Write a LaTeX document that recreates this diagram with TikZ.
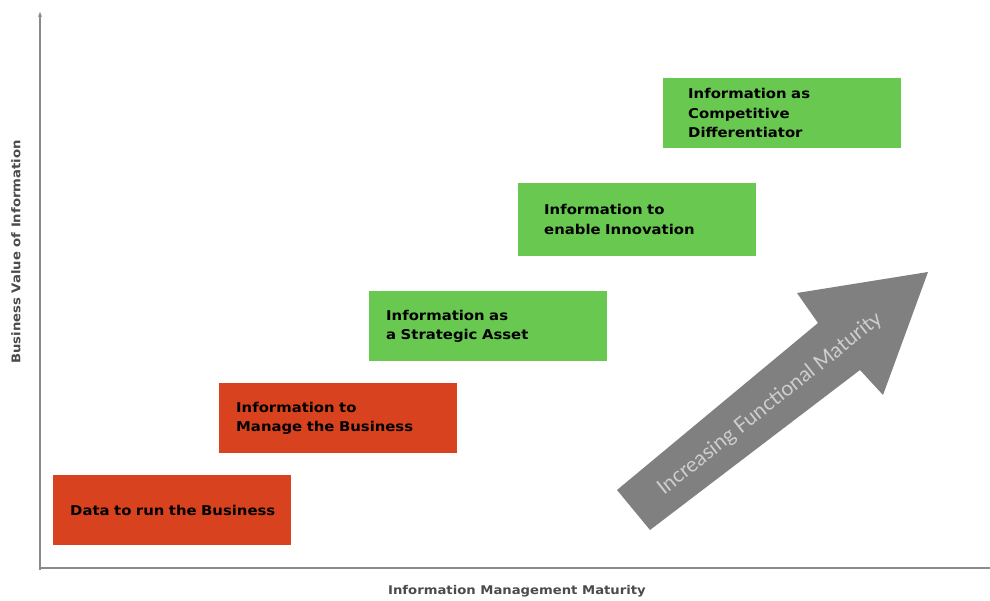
\documentclass[tikz,border=0pt]{standalone}
\usepackage{fontspec}
\setmainfont{DejaVu Sans}
\newfontfamily\widefont[FakeStretch=1.1]{DejaVu Sans}
\newfontfamily\arrowfont{Lato}
\usetikzlibrary{arrows.meta}
\definecolor{stepred}{RGB}{217,66,30}
\definecolor{stepgreen}{RGB}{104,200,80}
\definecolor{axisgray}{RGB}{138,138,138}
\definecolor{labelgray}{RGB}{75,75,75}
\definecolor{bigarrow}{RGB}{128,128,128}
\definecolor{arrowtext}{RGB}{205,205,205}
\tikzset{
  stage/.style={rectangle, inner ysep=0pt, minimum width=238pt, minimum height=70pt,
    align=left, font=\widefont\bfseries\fontsize{13.5}{19.5}\selectfont, text=black, anchor=north west},
  redstage/.style={stage, fill=stepred},
  greenstage/.style={stage, fill=stepgreen},
  axisline/.style={draw=axisgray, line width=1.5pt},
  axislabel/.style={font=\widefont\bfseries\fontsize{12}{14}\selectfont, text=labelgray}
}
\begin{document}
\begin{tikzpicture}[x=1pt, y=-1pt]
  \useasboundingbox (0,0) rectangle (990,601);

  % axes
  \coordinate (origin) at (40,568);
  \coordinate (ytop) at (40,12);
  \coordinate (xend) at (990,568);
  \draw[axisline, -{Stealth[length=5pt,width=4pt]}] (40,570) -- (ytop);
  \draw[axisline] (38.5,568) -- (xend);
  \node[axislabel, rotate=90] (ylab) at (16,252) {Business Value of Information};
  \node[axislabel] (xlab) at (517,591) {Information Management Maturity};

  % maturity stages
  \node[redstage, inner xsep=17pt, text width=204pt] (s1) at (53,475) {\mbox{Data to run the Business}};
  \node[redstage, inner xsep=17pt, text width=204pt] (s2) at (219,383) {Information to\\Manage the Business};
  \node[greenstage, inner xsep=17pt, text width=204pt] (s3) at (369,291) {Information as\\a Strategic Asset};
  \node[greenstage, inner xsep=26pt, text width=186pt, minimum height=73pt] (s4) at (518,183) {Information to\\enable Innovation};
  \node[greenstage, inner xsep=25pt, text width=188pt] (s5) at (663,78) {Information as\\Competitive\\Differentiator};

  % big trend arrow
  \fill[bigarrow] (617,490) -- (818,323) -- (797,293) -- (928,272)
    -- (883,395) -- (860,370) -- (650,530) -- cycle;
  \node[font=\arrowfont\fontsize{21}{24}\selectfont, text=arrowtext, rotate=38.5]
    (trend) at (770,404) {Increasing Functional Maturity};
\end{tikzpicture}
\end{document}
